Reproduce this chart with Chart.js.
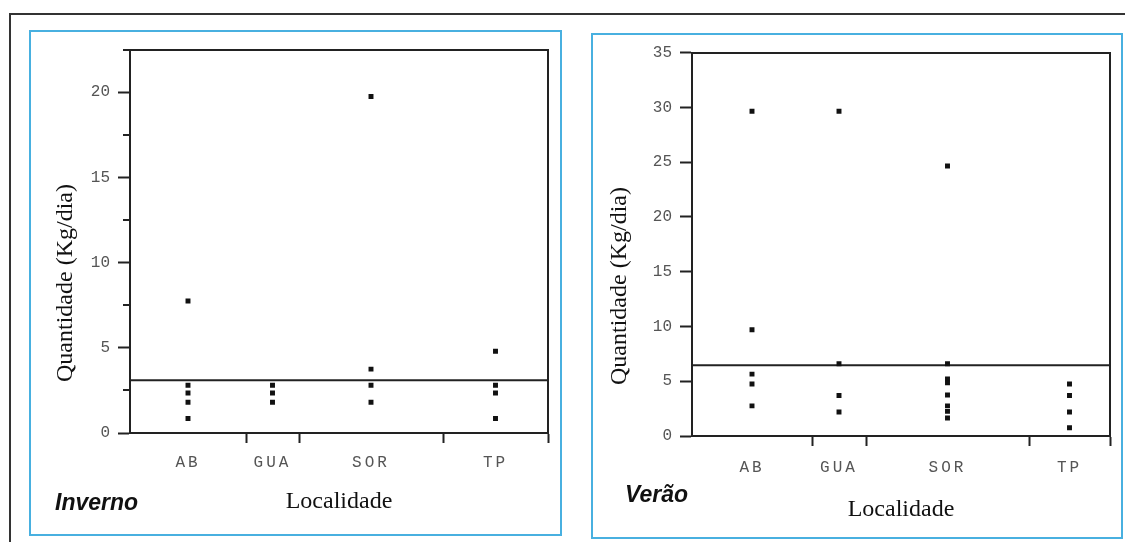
<!DOCTYPE html>
<html>
<head>
<meta charset="utf-8">
<script src="https://cdn.jsdelivr.net/npm/chart.js@4.4.0/dist/chart.umd.min.js"></script>
<style>
  body { margin: 0; width: 1125px; height: 542px; background: #fff; position: relative; overflow: hidden; }
  .frame { position: absolute; left: 9px; top: 13px; width: 1130px; height: 540px; border-top: 2px solid #333; border-left: 2px solid #333; }
  .panel { position: absolute; border: 2px solid #48b0e0; box-sizing: border-box; background: #fff; }
  .panel canvas { position: absolute; left: 0; top: 0; }
  .season { position: absolute; font-family: 'Liberation Sans', Arial, sans-serif; font-weight: bold; font-style: italic; font-size: 23px; line-height: 1; color: #111; }
</style>
</head>
<body>
<div class="frame"></div>
<div class="panel" style="left:29px; top:30px; width:533px; height:506px;">
  <canvas id="inverno" width="529" height="502"></canvas>
</div>
<div class="panel" style="left:591px; top:33px; width:532px; height:506px;">
  <canvas id="verao" width="528" height="502"></canvas>
</div>
<div class="season" style="left:55px; top:491px;">Inverno</div>
<div class="season" style="left:625px; top:483px;">Verão</div>

<script>
const localidades = ['AB', 'GUA', 'SOR', 'TP'];

// Inverno
const invernoLarguras = [116, 53, 144, 105];
const invernoAB = [7.75, 2.8, 2.35, 1.8, 0.85];
const invernoGUA = [2.8, 2.35, 1.8];
const invernoSOR = [19.75, 3.75, 2.8, 1.8];
const invernoTP = [4.8, 2.8, 2.35, 0.85];
const invernoLinha = 3.1;
const invernoYMax = 22.5;
const invernoYTicks = [0, 5, 10, 15, 20];
const invernoYMinor = [2.5, 7.5, 12.5, 17.5, 22.5];

// Verão
const veraoLarguras = [120, 54, 163, 81];
const veraoAB = [29.65, 9.7, 5.65, 4.75, 2.75];
const veraoGUA = [29.65, 6.6, 3.7, 2.2];
const veraoSOR = [24.65, 6.6, 5.2, 4.85, 3.75, 2.75, 2.25, 1.65];
const veraoTP = [4.75, 3.7, 2.2, 0.75];
const veraoLinha = 6.45;
const veraoYMax = 35;
const veraoYTicks = [0, 5, 10, 15, 20, 25, 30, 35];
const veraoYMinor = [];

const ink = '#222';
const mono = "'Liberation Mono', 'Courier New', monospace";
const serif = "'Liberation Serif', 'Times New Roman', serif";

function buildChart(id, grupos, larguras, linha, yMax, yTicks, yMinor, lay) {
    const total = larguras.reduce((a, b) => a + b, 0);
    const limites = [];
    const centros = [];
    let acc = 0;
    larguras.forEach(w => {
        centros.push(acc + w / 2);
        acc += w;
        limites.push(acc);
    });

    const pontos = [];
    grupos.forEach((vals, i) => vals.forEach(v => pontos.push({ x: centros[i], y: v })));

    // short ticks between the labelled ones
    const minorTicks = {
        id: 'minorTicks',
        afterDraw(chart) {
            if (!yMinor.length) return;
            const { ctx, chartArea } = chart;
            const y = chart.scales.y;
            ctx.save();
            ctx.strokeStyle = ink;
            ctx.lineWidth = 2;
            ctx.beginPath();
            yMinor.forEach(v => {
                const py = Math.round(y.getPixelForValue(v));
                ctx.moveTo(chartArea.left - 7, py);
                ctx.lineTo(chartArea.left, py);
            });
            ctx.stroke();
            ctx.restore();
        }
    };

    // the category labels are letter-spaced in the original
    const spacedLabels = {
        id: 'spacedLabels',
        afterLayout(chart) {
            const s = chart.scales.xLab;
            if (s._spaced) return;
            const base = s.drawLabels;
            s.drawLabels = function (area) {
                this.ctx.letterSpacing = '3px';
                base.call(this, area);
                this.ctx.letterSpacing = '0px';
            };
            s._spaced = true;
        }
    };

    return new Chart(document.getElementById(id), {
        type: 'scatter',
        data: {
            datasets: [
                {
                    data: pontos,
                    pointStyle: 'rect',
                    pointRadius: 3.5,
                    pointHoverRadius: 3.5,
                    backgroundColor: '#111',
                    borderWidth: 0
                },
                {
                    type: 'line',
                    data: [{ x: 0, y: linha }, { x: total, y: linha }],
                    borderColor: ink,
                    borderWidth: 2,
                    pointRadius: 0
                }
            ]
        },
        options: {
            responsive: false,
            animation: false,
            layout: { padding: 0 },
            plugins: {
                legend: { display: false },
                tooltip: { enabled: false },
                title: {
                    display: true,
                    position: 'left',
                    text: 'Quantidade (Kg/dia)',
                    color: '#111',
                    font: { family: serif, size: 24, weight: 'normal' },
                    padding: { top: lay.titleLeft, bottom: 58.8 - 28.8 - lay.titleLeft }
                }
            },
            scales: {
                x: {
                    type: 'linear',
                    position: 'bottom',
                    min: 0,
                    max: total,
                    afterBuildTicks: s => { s.ticks = limites.map(v => ({ value: v })); },
                    afterFit: s => { s.height = 10; },
                    ticks: { display: false },
                    grid: { drawOnChartArea: false, drawTicks: true, tickLength: 10, tickWidth: 2, tickColor: ink },
                    border: { display: true, color: ink, width: 2 }
                },
                xLab: {
                    type: 'linear',
                    position: 'bottom',
                    weight: 1,
                    min: 0,
                    max: total,
                    afterBuildTicks: s => { s.ticks = centros.map(v => ({ value: v })); },
                    afterFit: s => { s.height = 91; },
                    ticks: {
                        color: '#555',
                        font: { family: mono, size: 16 },
                        padding: lay.labelPad,
                        maxRotation: 0,
                        autoSkip: false,
                        callback: (v, i) => localidades[i]
                    },
                    grid: { display: false, drawTicks: false },
                    border: { display: false },
                    title: {
                        display: true,
                        text: 'Localidade',
                        color: '#111',
                        font: { family: serif, size: 24 },
                        padding: { top: 0, bottom: lay.xTitlePad }
                    }
                },
                x2: {
                    type: 'linear',
                    position: 'top',
                    min: 0,
                    max: 1,
                    afterFit: s => { s.height = 15; },
                    ticks: { display: false },
                    grid: { display: false },
                    border: { display: true, color: ink, width: 2 }
                },
                y: {
                    type: 'linear',
                    position: 'left',
                    min: 0,
                    max: yMax,
                    afterBuildTicks: s => { s.ticks = yTicks.map(v => ({ value: v })); },
                    afterFit: s => { s.width = 99 - 58.8; },
                    ticks: { color: '#555', font: { family: mono, size: 16 }, padding: 8 },
                    grid: { drawOnChartArea: false, tickLength: 12, tickWidth: 2, tickColor: ink },
                    border: { color: ink, width: 2 }
                },
                y2: {
                    type: 'linear',
                    position: 'right',
                    min: 0,
                    max: 1,
                    afterFit: s => { s.width = lay.right; },
                    ticks: { display: false },
                    grid: { display: false },
                    border: { display: true, color: ink, width: 2 }
                }
            }
        },
        plugins: [minorTicks, spacedLabels]
    });
}

buildChart('inverno', [invernoAB, invernoGUA, invernoSOR, invernoTP], invernoLarguras,
    invernoLinha, invernoYMax, invernoYTicks, invernoYMinor,
    { titleLeft: 20, right: 12, labelPad: 10, xTitlePad: 18 });

buildChart('verao', [veraoAB, veraoGUA, veraoSOR, veraoTP], veraoLarguras,
    veraoLinha, veraoYMax, veraoYTicks, veraoYMinor,
    { titleLeft: 12, right: 11, labelPad: 12, xTitlePad: 13 });
</script>
</body>
</html>
